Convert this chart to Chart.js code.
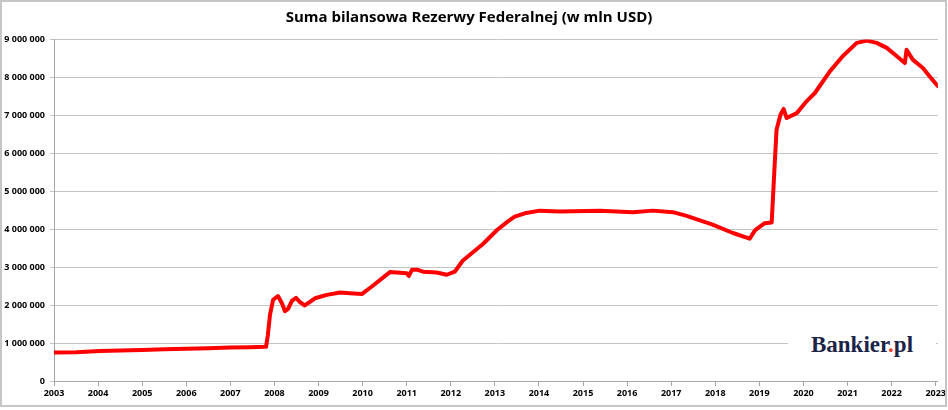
<!DOCTYPE html>
<html>
<head>
<meta charset="utf-8">
<script src="https://cdn.jsdelivr.net/npm/chart.js@4/dist/chart.umd.min.js"></script>
<style>
  html, body { margin: 0; padding: 0; background: #fff; }
  #wrap { position: relative; width: 948px; height: 410px; }
  #chart { position: absolute; left: 0; top: 0; }
  #frame {
    position: absolute; left: 0; top: 0; width: 947px; height: 407px;
    border: 2px solid #c6c6c6; box-sizing: border-box; pointer-events: none;
  }
  #logo {
    position: absolute; left: 788px; top: 322px; width: 148px; height: 46px;
    background: #fff; text-align: center; line-height: 46px;
    font-family: "Liberation Serif", serif; font-weight: bold; font-size: 23px;
    color: #1b2447;
  }
  #logo span { color: #e9462b; }
</style>
</head>
<body>
<div id="wrap">
  <canvas id="chart" width="948" height="410"></canvas>
  <div id="logo">Bankier<span>.</span>pl</div>
  <div id="frame"></div>
</div>
<script>
const chartTitle = 'Suma bilansowa Rezerwy Federalnej (w mln USD)';

// x positions in years (as labelled on the axis), values in mln USD
const years = [
  2003.00, 2003.50, 2004.04, 2004.50, 2005.00, 2005.50, 2006.00, 2006.50, 2007.00, 2007.44, 2007.81,
  2007.85, 2007.90, 2007.97, 2008.08, 2008.17, 2008.24, 2008.31, 2008.40, 2008.49, 2008.58, 2008.69,
  2008.92, 2009.19, 2009.49, 2009.71, 2009.98, 2010.21, 2010.62, 2011.00, 2011.05, 2011.12, 2011.25,
  2011.37, 2011.68, 2011.91, 2012.09, 2012.27, 2012.73, 2013.05, 2013.29, 2013.45, 2013.68, 2014.02,
  2014.47, 2015.38, 2016.13, 2016.58, 2017.04, 2017.35, 2017.94, 2018.40, 2018.78, 2018.90, 2019.12,
  2019.28, 2019.35, 2019.39, 2019.48, 2019.55, 2019.62, 2019.85, 2020.07, 2020.26, 2020.60, 2020.89,
  2021.21, 2021.44, 2021.66, 2021.89, 2022.12, 2022.30, 2022.34, 2022.48, 2022.71, 2022.86, 2023.05
];
const values = [
  750000, 760000, 790000, 805000, 820000, 835000, 850000, 862000, 880000, 890000, 900000,
  1200000, 1750000, 2140000, 2240000, 2050000, 1840000, 1900000, 2120000, 2190000, 2080000, 1990000,
  2180000, 2270000, 2330000, 2310000, 2290000, 2490000, 2870000, 2840000, 2770000, 2930000, 2930000,
  2880000, 2860000, 2800000, 2880000, 3170000, 3610000, 3980000, 4200000, 4330000, 4420000, 4490000,
  4470000, 4490000, 4450000, 4490000, 4450000, 4350000, 4120000, 3900000, 3750000, 3970000, 4160000,
  4180000, 5750000, 6620000, 7020000, 7170000, 6930000, 7060000, 7370000, 7590000, 8160000, 8560000,
  8910000, 8970000, 8910000, 8780000, 8560000, 8380000, 8730000, 8470000, 8250000, 8030000, 7770000
];
const yearTicks = [2003, 2004, 2005, 2006, 2007, 2008, 2009, 2010, 2011, 2012, 2013,
                   2014, 2015, 2016, 2017, 2018, 2019, 2020, 2021, 2022, 2023];

const points = years.map((x, i) => ({ x: x, y: values[i] }));
const tickFont = { family: '"Open Sans", sans-serif', size: 9, weight: 'bold' };

const fmtSpace = v => String(v).replace(/\B(?=(\d{3})+(?!\d))/g, ' ');

new Chart(document.getElementById('chart').getContext('2d'), {
  type: 'line',
  data: {
    datasets: [{
      data: points,
      borderColor: '#ff0000',
      borderWidth: 4,
      pointRadius: 0,
      tension: 0,
      borderJoinStyle: 'round',
      borderCapStyle: 'round',
      fill: false
    }]
  },
  options: {
    responsive: false,
    animation: false,
    devicePixelRatio: 1,
    layout: { padding: { left: 0, right: 10, top: 0, bottom: 0 } },
    plugins: {
      legend: { display: false },
      tooltip: { enabled: false },
      title: {
        display: true,
        text: chartTitle,
        color: '#000',
        font: { family: '"Open Sans", sans-serif', size: 15, weight: 'bold' },
        padding: { top: 9, bottom: 12.5 }
      }
    },
    scales: {
      x: {
        type: 'linear',
        min: 2003,
        max: 2023.05,
        afterBuildTicks: s => { s.ticks = yearTicks.map(v => ({ value: v })); },
        afterFit: s => { s.height = 29; },
        grid: { drawOnChartArea: false, drawTicks: true, tickLength: 5, color: '#a6a6a6' },
        border: { color: '#a6a6a6', width: 1 },
        ticks: {
          color: '#000', font: tickFont, padding: 2, maxRotation: 0, autoSkip: false,
          callback: v => String(v)
        }
      },
      y: {
        min: 0,
        max: 9000000,
        afterFit: s => { s.width = 54; },
        grid: { color: '#c4c4c4', lineWidth: 1, tickLength: 4, drawTicks: true },
        border: { color: '#a6a6a6', width: 1 },
        ticks: {
          stepSize: 1000000, color: '#000', font: tickFont, padding: 5,
          callback: v => fmtSpace(v)
        }
      }
    }
  }
});
</script>
</body>
</html>
